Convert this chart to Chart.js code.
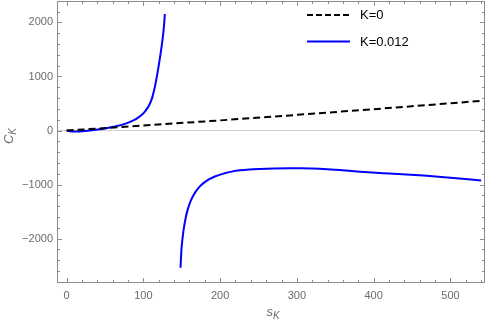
<!DOCTYPE html>
<html>
<head>
<meta charset="utf-8">
<script src="https://cdn.jsdelivr.net/npm/chart.js@4"></script>
<style>
  html, body { margin: 0; padding: 0; background: #fff; }
  #wrap { width: 491px; height: 327px; }
</style>
</head>
<body>
<div id="wrap"><canvas id="chart" width="491" height="327"></canvas></div>
<script>
// K = 0 curve (dashed)
const sK0 = [0, 100, 200, 300, 400, 540];
const cK0 = [0, 92, 188, 290, 395, 549];

// K = 0.012 curve, two branches either side of the pole
const sLeft = [0, 4.3, 10.8, 23.8, 36.8, 49.9, 62.9, 75.9, 86.3, 93.2, 100, 106.3, 109.8, 112, 115.6, 119.3, 122.1, 125, 126.7, 128];
const cLeft = [0, -15, -20, -9, 13, 37, 74, 124, 185, 240, 318, 438, 540, 632, 850, 1140, 1390, 1690, 1915, 2157];
const sRight = [148.4, 149.5, 150.8, 152.7, 155.3, 157.9, 161.8, 167.1, 173.6, 182.7, 193.1, 206, 215, 226, 238, 252, 270, 290, 305, 340, 378, 420, 465, 500, 540];
const cRight = [-2540, -2223, -2024, -1809, -1604, -1454, -1295, -1153, -1033, -928, -850, -790, -760, -735, -720, -711, -704, -700, -700, -718, -757, -795, -834, -872, -924];

const labels = ['K=0', 'K=0.012'];
const xMajor = [0, 100, 200, 300, 400, 500];
const yMajor = [-2000, -1000, 0, 1000, 2000];

const toPts = (xs, ys) => xs.map((x, i) => ({ x: x, y: ys[i] }));
const blueData = toPts(sLeft, cLeft).concat([{ x: 138, y: null }], toPts(sRight, cRight));

const fmt = v => (v < 0 ? '\u2212' + Math.abs(v) : String(v));

const framePlugin = {
    id: 'frame',
    afterDatasetsDraw(chart) {
        const { ctx, chartArea: a, scales } = chart;
        ctx.save();
        ctx.strokeStyle = '#8c8c8c';
        ctx.lineWidth = 1;
        ctx.strokeRect(a.left + 0.5, a.top + 0.5, a.right - a.left - 1, a.bottom - a.top - 1);

        const xs = scales.x, ys = scales.y;
        ctx.beginPath();
        for (let v = 0; v <= xs.max; v += 20) {
            const len = v % 100 === 0 ? 5 : 3;
            const px = Math.round(xs.getPixelForValue(v)) + 0.5;
            ctx.moveTo(px, a.bottom); ctx.lineTo(px, a.bottom - len);
            ctx.moveTo(px, a.top); ctx.lineTo(px, a.top + len);
        }
        for (let v = -2800; v <= ys.max; v += 200) {
            const len = v % 1000 === 0 ? 5 : 3;
            const py = Math.round(ys.getPixelForValue(v)) + 0.5;
            ctx.moveTo(a.left, py); ctx.lineTo(a.left + len, py);
            ctx.moveTo(a.right, py); ctx.lineTo(a.right - len, py);
        }
        ctx.stroke();

        // axis titles with subscripts
        ctx.fillStyle = '#6b6b6b';
        const drawSub = (main, sub) => {
            ctx.font = 'italic 13px "Liberation Sans", Arial, sans-serif';
            const w1 = ctx.measureText(main).width;
            ctx.font = 'italic 10px "Liberation Sans", Arial, sans-serif';
            const w2 = ctx.measureText(sub).width;
            const start = -(w1 + w2) / 2;
            ctx.font = 'italic 13px "Liberation Sans", Arial, sans-serif';
            ctx.textAlign = 'left';
            ctx.textBaseline = 'alphabetic';
            ctx.fillText(main, start, 0);
            ctx.font = 'italic 10px "Liberation Sans", Arial, sans-serif';
            ctx.fillText(sub, start + w1, 3);
        };
        ctx.save();
        ctx.translate((a.left + a.right) / 2 + 2, 316);
        drawSub('s', 'K');
        ctx.restore();
        ctx.save();
        ctx.translate(13, 136);
        ctx.rotate(-Math.PI / 2);
        drawSub('C', 'K');
        ctx.restore();

        // legend
        ctx.font = '13px "Liberation Sans", Arial, sans-serif';
        ctx.textAlign = 'left';
        ctx.textBaseline = 'middle';
        chart.data.datasets.forEach((ds, i) => {
            const y = 15 + i * 26.5;
            ctx.beginPath();
            ctx.strokeStyle = ds.borderColor;
            ctx.lineWidth = 2;
            ctx.setLineDash(ds.borderDash && ds.borderDash.length ? [6, 3] : []);
            ctx.moveTo(307, y); ctx.lineTo(350, y);
            ctx.stroke();
            ctx.setLineDash([]);
            ctx.fillStyle = '#000';
            ctx.fillText(ds.label, 360, y + 0.5);
        });
        ctx.restore();
    }
};

new Chart(document.getElementById('chart'), {
    type: 'line',
    data: {
        datasets: [
            {
                label: labels[0],
                data: toPts(sK0, cK0),
                borderColor: '#000000',
                borderWidth: 2,
                borderDash: [7, 4],
                pointRadius: 0,
                tension: 0
            },
            {
                label: labels[1],
                data: blueData,
                borderColor: '#0000ff',
                borderWidth: 2,
                pointRadius: 0,
                spanGaps: false,
                cubicInterpolationMode: 'monotone'
            }
        ]
    },
    options: {
        responsive: false,
        animation: false,
        layout: { padding: { top: 1, right: 6, left: 0, bottom: 0 } },
        plugins: { legend: { display: false }, tooltip: { enabled: false } },
        scales: {
            x: {
                type: 'linear',
                min: -12.5,
                max: 545,
                afterFit: s => { s.height = 44; s.paddingLeft = 0; s.paddingRight = 0; },
                afterBuildTicks: s => { s.ticks = xMajor.map(v => ({ value: v })); },
                grid: { display: false, drawTicks: false },
                border: { display: false },
                ticks: { color: '#6b6b6b', padding: 6, maxRotation: 0, font: { size: 11, family: '"Liberation Sans", Arial, sans-serif' }, callback: v => fmt(v) }
            },
            y: {
                type: 'linear',
                min: -2821,
                max: 2397,
                afterFit: s => { s.width = 57; s.paddingTop = 0; s.paddingBottom = 0; },
                afterBuildTicks: s => { s.ticks = yMajor.map(v => ({ value: v })); },
                grid: {
                    drawTicks: false,
                    color: c => (c.tick && c.tick.value === 0 ? '#d0d0d0' : 'rgba(0,0,0,0)'),
                    lineWidth: 1
                },
                border: { display: false },
                ticks: { color: '#6b6b6b', padding: 4, font: { size: 11, family: '"Liberation Sans", Arial, sans-serif' }, callback: v => fmt(v) }
            }
        }
    },
    plugins: [framePlugin]
});
</script>
</body>
</html>
